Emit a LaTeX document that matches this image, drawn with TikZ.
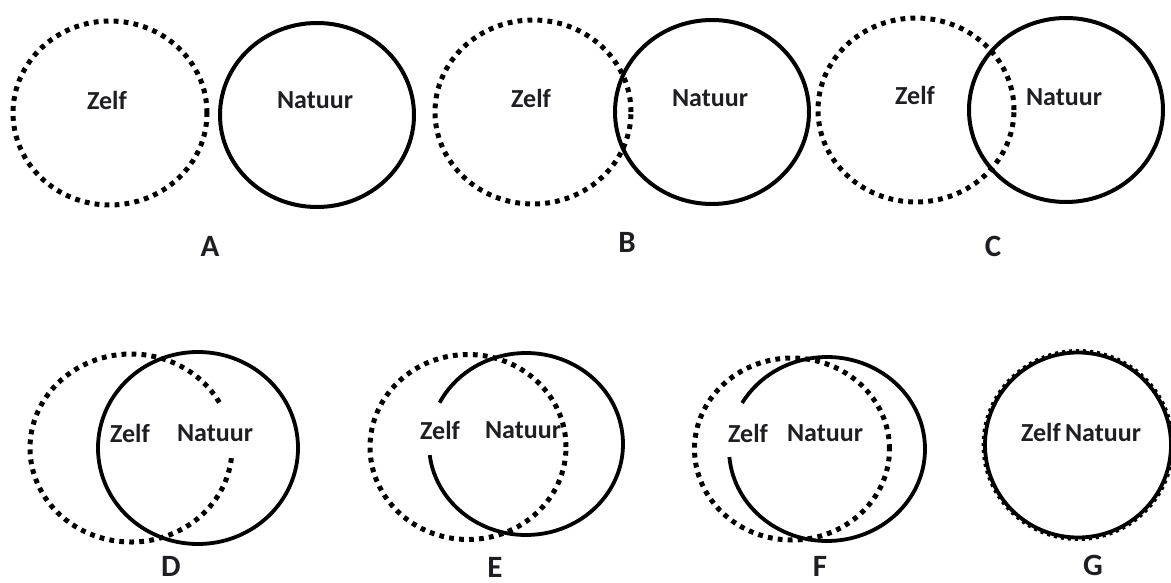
\documentclass[tikz,border=0pt]{standalone}
\usepackage{fontspec}
\setmainfont{Carlito}
\usetikzlibrary{calc}
\definecolor{ink}{RGB}{30,30,35}
\tikzset{
  solidring/.style={draw=black, line width=4pt},
  dotring/.style={draw=black, line width=5pt, dash pattern=on 4.8pt off 5.2pt},
  word/.style={text=ink, font=\fontsize{26}{30}\selectfont\bfseries, inner sep=0pt},
  tag/.style={text=ink, font=\fontsize{31}{36}\selectfont\bfseries, inner sep=0pt}
}
\begin{document}
\begin{tikzpicture}[x=1pt, y=-1pt]
\useasboundingbox (0,0) rectangle (1171,583);
% ---------- A ----------
\coordinate (Az) at (110,113);
\coordinate (An) at (317,115);
\draw[dotring] (Az) ellipse [x radius=97pt, y radius=92pt];
\draw[solidring] (An) ellipse [x radius=97pt, y radius=92pt];
\node[word] (Azt) at (107,100) {Zelf};
\node[word] (Ant) at (315,100) {Natuur};
\node[tag] (Al) at (210,246) {A};
% ---------- B ----------
\coordinate (Bz) at (533,112);
\coordinate (Bn) at (712,112);
\draw[dotring] (Bz) ellipse [x radius=98pt, y radius=92pt];
\draw[solidring] (Bn) ellipse [x radius=97pt, y radius=92pt];
\node[word] (Bzt) at (531,98) {Zelf};
\node[word] (Bnt) at (710,98) {Natuur};
\node[tag] (Bl) at (627,242) {B};
% ---------- C ----------
\coordinate (Cz) at (916,110);
\coordinate (Cn) at (1066,110);
\draw[dotring] (Cz) ellipse [x radius=98pt, y radius=92pt];
\draw[solidring] (Cn) ellipse [x radius=97pt, y radius=92pt];
\node[word] (Czt) at (915,95) {Zelf};
\node[word] (Cnt) at (1064,97) {Natuur};
\node[tag] (Cl) at (993,246) {C};
% ---------- D ----------
\coordinate (Dz) at (131,448);
\coordinate (Dn) at (198,448);
\draw[dotring] ($(Dz)+(29:101pt and 94pt)$) arc[start angle=29, end angle=355, x radius=101pt, y radius=94pt];
\draw[solidring, line width=3.8pt] (Dn) ellipse [x radius=100pt, y radius=96pt];
\node[word] (Dzt) at (130,433) {Zelf};
\node[word] (Dnt) at (215,433) {Natuur};
\node[tag] (Dl) at (171,566) {D};
% ---------- E ----------
\coordinate (Ez) at (468,447);
\coordinate (En) at (526,444);
\draw[dotring] (Ez) ellipse [x radius=98pt, y radius=92.5pt];
\draw[solidring, line width=3.8pt] ($(En)+(187:97pt and 91pt)$) arc[start angle=187, end angle=513, x radius=97pt, y radius=91pt];
\node[word] (Ezt) at (440,430) {Zelf};
\node[word] (Ent) at (523,430) {Natuur};
\node[tag] (El) at (495,567) {E};
% ---------- F ----------
\coordinate (Fz) at (792,449);
\coordinate (Fn) at (827,449);
\draw[dotring] (Fz) ellipse [x radius=97.5pt, y radius=91pt];
\draw[solidring, line width=3.8pt] ($(Fn)+(185:98pt and 92pt)$) arc[start angle=185, end angle=510, x radius=98pt, y radius=92pt];
\node[word] (Fzt) at (748,433) {Zelf};
\node[word] (Fnt) at (825,433) {Natuur};
\node[tag] (Fl) at (820,566) {F};
% ---------- G ----------
\coordinate (Gz) at (1078,445);
\coordinate (Gn) at (1078,445);
\draw[dotring, line width=4pt, dash pattern=on 3pt off 4pt] (Gz) ellipse [x radius=94.5pt, y radius=94pt];
\draw[solidring, line width=3.8pt] (Gn) ellipse [x radius=93pt, y radius=92.5pt];
\node[word] (Gt) at (1081,432) {Zelf\,Natuur};
\node[tag] (Gl) at (1093,565) {G};
\end{tikzpicture}
\end{document}
